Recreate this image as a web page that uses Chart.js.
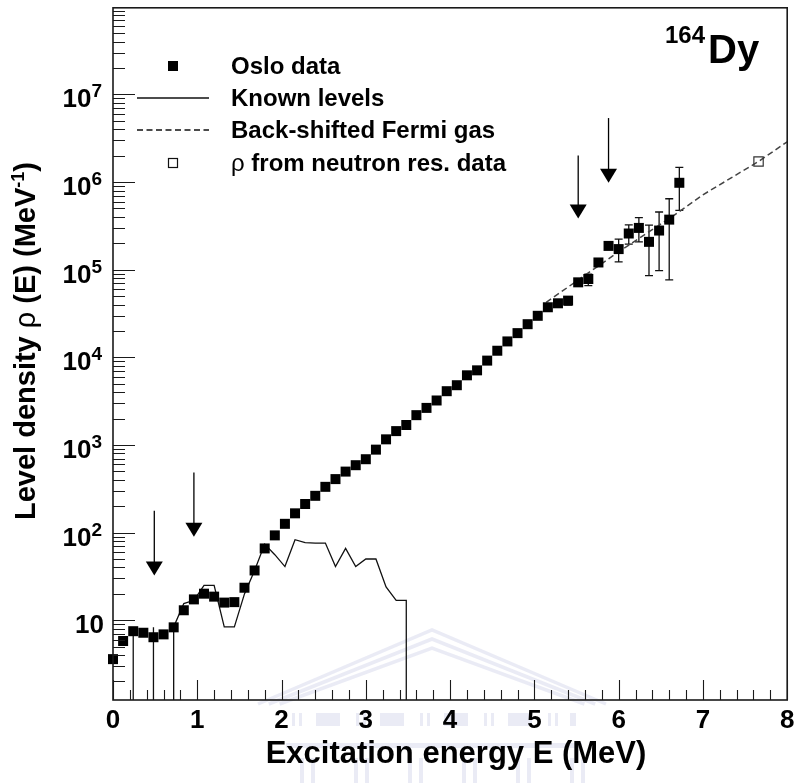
<!DOCTYPE html>
<html>
<head>
<meta charset="utf-8">
<script src="https://cdn.jsdelivr.net/npm/chart.js@4.4.1/dist/chart.umd.min.js"></script>
<style>
  html, body { margin: 0; padding: 0; background: #fff; }
  canvas { display: block; }
</style>
</head>
<body>
<canvas id="c" width="795" height="783"></canvas>
<script>
// Excitation-energy bins (MeV) of the Oslo-method level density
const energies = [0.00, 0.12, 0.24, 0.36, 0.48, 0.60, 0.72, 0.84, 0.96, 1.08,
                  1.20, 1.32, 1.44, 1.56, 1.68, 1.80, 1.92, 2.04, 2.16, 2.28,
                  2.40, 2.52, 2.64, 2.76, 2.88, 3.00, 3.12, 3.24, 3.36, 3.48,
                  3.60, 3.72, 3.84, 3.96, 4.08, 4.20, 4.32, 4.44, 4.56, 4.68,
                  4.80, 4.92, 5.04, 5.16, 5.28, 5.40, 5.52, 5.64, 5.76, 5.88,
                  6.00, 6.12, 6.24, 6.36, 6.48, 6.60, 6.72];

// Oslo data: level density (1/MeV) per bin
const osloRho = [3.6, 5.8, 7.5, 7.2, 6.4, 6.9, 8.3, 13.0, 17.3, 20.1,
                 18.6, 15.9, 16.1, 23.5, 37, 66, 93, 126, 166, 212,
                 263, 333, 408, 497, 588, 688, 885, 1160, 1440, 1690,
                 2190, 2650, 3220, 4110, 4810, 6240, 7110, 9180, 11900, 15200,
                 18900, 23900, 29800, 37300, 41400, 44400, 71800, 78400, 121000, 187000,
                 172000, 259000, 300000, 208000, 280000, 373000, 982000];

// Error bars on the Oslo data (only where they reach past the marker)
const errEnergies = [5.40, 5.64, 6.00, 6.12, 6.24, 6.36, 6.48, 6.60, 6.72];
const errLow  = [39600, 66000, 123000, 196000, 208000, 85500, 97500, 76400, 476000];
const errHigh = [49300, 89000, 223000, 325000, 393000, 322000, 456000, 646000, 1470000];

// Density of known discrete levels, same bins (0 = no level in the bin)
const knownRho = [0, 0, 8.0, 0, 8.3, 0, 8.4, 15.5, 16.9, 25,
                  25, 8.4, 8.4, 20, 37, 74, 56, 41, 83, 77,
                  76, 76, 41, 66, 41, 50, 50, 24, 16.9, 16.9, 0];

// Back-shifted Fermi gas curve
const bsfgE   = [5.14, 6.00, 6.66, 7.00, 7.66, 8.00];
const bsfgRho = [42500, 160000, 419000, 716000, 1720000, 2880000];

// Level density from neutron resonance spacing at Bn
const neutronE   = [7.66];
const neutronRho = [1720000];

// Arrows marking the normalisation regions
const arrowE    = [0.49, 0.96, 5.52, 5.88];
const arrowFrom = [178, 484, 2010000, 5380000];
const arrowTo   = [32.5, 90, 383000, 980000];

// Axes
const xTickLabels = ['0', '1', '2', '3', '4', '5', '6', '7', '8'];
const yDecades = [1, 2, 3, 4, 5, 6, 7];
const xTitle = 'Excitation energy E (MeV)';
const legendLabels = ['Oslo data', 'Known levels', 'Back-shifted Fermi gas', ' from neutron res. data'];

const FONT = '"Liberation Sans", Arial, Helvetica, sans-serif';
// an empty bin has no logarithm: its line runs off the bottom of the log axis
const EMPTY_BIN_FLOOR = 1e-3;

function knownLevelPoints() {
  const pts = [];
  for (let i = 0; i < knownRho.length; i++) {
    const v = knownRho[i], e = energies[i];
    const prev = i > 0 ? knownRho[i - 1] : 0;
    const next = i < knownRho.length - 1 ? knownRho[i + 1] : 0;
    if (v > 0) {
      if (prev === 0) pts.push({ x: e, y: EMPTY_BIN_FLOOR });
      pts.push({ x: e, y: v });
      if (next === 0) { pts.push({ x: e, y: EMPTY_BIN_FLOOR }); pts.push({ x: e, y: null }); }
    }
  }
  return pts;
}

function drawRuns(ctx, runs, x, y, align) {
  let total = 0;
  runs.forEach(r => { ctx.font = r.font; r.w = ctx.measureText(r.t).width; total += r.w; });
  let cx = align === 'center' ? x - total / 2 : (align === 'right' ? x - total : x);
  ctx.textAlign = 'left';
  runs.forEach(r => { ctx.font = r.font; ctx.fillText(r.t, cx, y + (r.dy || 0)); cx += r.w; });
}

// faint building emblem printed behind the lower axis
function drawEmblem(ctx) {
  ctx.save();
  const tint = 'rgba(200, 202, 228, 0.38)';
  ctx.fillStyle = tint;
  ctx.strokeStyle = tint;
  // pediment: three parallel roof stripes
  ctx.lineWidth = 3.5;
  for (let s = 0; s < 3; s++) {
    const off = s * 9;
    ctx.beginPath();
    ctx.moveTo(258 + off * 1.2, 704);
    ctx.lineTo(432, 630 + off);
    ctx.lineTo(606 - off * 1.2, 704);
    ctx.stroke();
  }
  // upper row of windows / pillars
  const row1 = [[292, 3], [299, 3], [316, 24], [356, 3], [363, 3], [380, 24], [420, 3], [427, 3],
                [444, 24], [484, 3], [491, 3], [508, 24], [548, 3], [555, 3], [570, 6]];
  row1.forEach(([x, w]) => ctx.fillRect(x, 713, w, 13));
  // cornice
  ctx.fillRect(286, 743, 296, 5);
  // columns
  for (let c = 0; c < 6; c++) {
    const x = 300 + c * 54;
    ctx.fillRect(x, 758, 4, 25);
    ctx.fillRect(x + 11, 758, 4, 25);
  }
  ctx.restore();
}

const decor = {
  id: 'decor',
  beforeDraw(chart) {
    drawEmblem(chart.ctx);
  },
  beforeDatasetsDraw(chart) {
    const ctx = chart.ctx, xs = chart.scales.x, ys = chart.scales.y;
    ctx.save();
    ctx.strokeStyle = '#111';
    ctx.lineWidth = 1.3;
    for (let k = 0; k < errEnergies.length; k++) {
      const px = xs.getPixelForValue(errEnergies[k]);
      const y1 = ys.getPixelForValue(errLow[k]);
      const y2 = ys.getPixelForValue(errHigh[k]);
      ctx.beginPath();
      ctx.moveTo(px, y1); ctx.lineTo(px, y2);
      ctx.moveTo(px - 4, y1); ctx.lineTo(px + 4, y1);
      ctx.moveTo(px - 4, y2); ctx.lineTo(px + 4, y2);
      ctx.stroke();
    }
    ctx.restore();
  },
  afterDraw(chart) {
    const ctx = chart.ctx, xs = chart.scales.x, ys = chart.scales.y;
    const a = chart.chartArea;
    ctx.save();

    // frame
    ctx.strokeStyle = '#1a1a1a';
    ctx.lineWidth = 1.6;
    ctx.strokeRect(a.left, a.top, a.right - a.left, a.bottom - a.top);

    // y ticks (log, drawn inwards)
    ctx.lineWidth = 1.1;
    ctx.beginPath();
    for (let d = 0; d <= 7; d++) {
      for (let m = 1; m <= 9; m++) {
        const v = m * Math.pow(10, d);
        if (v < ys.min || v > ys.max) continue;
        const py = Math.round(ys.getPixelForValue(v)) + 0.5;
        const len = m === 1 ? 22 : 12;
        ctx.moveTo(a.left, py); ctx.lineTo(a.left + len, py);
      }
    }
    // x ticks
    for (let t = 0; t <= 40; t++) {
      const v = t * 0.2;
      const px = Math.round(xs.getPixelForValue(v)) + 0.5;
      const len = t % 5 === 0 ? 20 : 10;
      ctx.moveTo(px, a.bottom); ctx.lineTo(px, a.bottom - len);
    }
    ctx.stroke();

    ctx.fillStyle = '#000';
    ctx.textBaseline = 'alphabetic';

    // x tick labels
    ctx.font = 'bold 26px ' + FONT;
    ctx.textAlign = 'center';
    xTickLabels.forEach((lab, i) => {
      ctx.fillText(lab, xs.getPixelForValue(i), a.bottom + 28);
    });

    // y tick labels 10^n
    yDecades.forEach(d => {
      const py = ys.getPixelForValue(Math.pow(10, d));
      if (d === 1) {
        drawRuns(ctx, [{ t: '10', font: 'bold 26px ' + FONT }], 104, py + 13, 'right');
      } else {
        drawRuns(ctx, [
          { t: '10', font: 'bold 26px ' + FONT },
          { t: String(d), font: 'bold 19px ' + FONT, dy: -10 }
        ], 102, py + 13, 'right');
      }
    });

    // axis titles
    ctx.font = 'bold 31px ' + FONT;
    ctx.textAlign = 'center';
    ctx.fillText(xTitle, 456, 763);

    ctx.save();
    ctx.translate(35, 341);
    ctx.rotate(-Math.PI / 2);
    drawRuns(ctx, [
      { t: 'Level density ', font: 'bold 29px ' + FONT },
      { t: '\u03C1', font: '29px ' + FONT },
      { t: ' (E) (MeV', font: 'bold 29px ' + FONT },
      { t: '-1', font: 'bold 18px ' + FONT, dy: -11 },
      { t: ')', font: 'bold 29px ' + FONT }
    ], 0, 0, 'center');
    ctx.restore();

    // nucleus label
    ctx.textAlign = 'left';
    ctx.font = 'bold 24px ' + FONT;
    ctx.fillText('164', 665, 43);
    ctx.font = 'bold 40px ' + FONT;
    ctx.fillText('Dy', 708, 63);

    // legend
    const rows = [66, 98, 130, 163];
    ctx.textBaseline = 'middle';
    ctx.fillRect(168, rows[0] - 5, 10, 10);
    ctx.strokeStyle = '#111';
    ctx.lineWidth = 1.3;
    ctx.beginPath(); ctx.moveTo(137, rows[1]); ctx.lineTo(209, rows[1]); ctx.stroke();
    ctx.setLineDash([6, 3.5]);
    ctx.beginPath(); ctx.moveTo(137, rows[2]); ctx.lineTo(209, rows[2]); ctx.stroke();
    ctx.setLineDash([]);
    ctx.lineWidth = 1.2;
    ctx.strokeRect(168.5, rows[3] - 4.5, 9, 9);
    ctx.font = 'bold 24px ' + FONT;
    ctx.textAlign = 'left';
    for (let r = 0; r < 3; r++) ctx.fillText(legendLabels[r], 231, rows[r] + 1);
    drawRuns(ctx, [
      { t: '\u03C1', font: '24px ' + FONT },
      { t: legendLabels[3], font: 'bold 24px ' + FONT }
    ], 231, rows[3] + 1, 'left');

    // arrows
    ctx.strokeStyle = '#000';
    ctx.lineWidth = 1.3;
    for (let k = 0; k < arrowE.length; k++) {
      const px = xs.getPixelForValue(arrowE[k]);
      const y1 = ys.getPixelForValue(arrowFrom[k]);
      const y2 = ys.getPixelForValue(arrowTo[k]);
      ctx.beginPath(); ctx.moveTo(px, y1); ctx.lineTo(px, y2 - 10); ctx.stroke();
      ctx.beginPath();
      ctx.moveTo(px - 8.5, y2 - 14); ctx.lineTo(px + 8.5, y2 - 14); ctx.lineTo(px, y2);
      ctx.closePath(); ctx.fill();
    }
    ctx.restore();
  }
};

new Chart(document.getElementById('c'), {
  type: 'scatter',
  data: {
    datasets: [
      {
        label: 'Oslo data',
        data: energies.map((e, i) => ({ x: e, y: osloRho[i] })),
        pointStyle: 'rect',
        pointRadius: 7.07,
        pointBorderWidth: 0,
        pointBackgroundColor: '#000',
        showLine: false,
        clip: false
      },
      {
        label: 'rho from neutron res. data',
        data: neutronE.map((e, i) => ({ x: e, y: neutronRho[i] })),
        pointStyle: 'rect',
        pointRadius: 6.6,
        pointBorderWidth: 1.2,
        pointBorderColor: '#333',
        pointBackgroundColor: 'rgba(255,255,255,0)',
        showLine: false
      },
      {
        label: 'Known levels',
        data: knownLevelPoints(),
        showLine: true,
        spanGaps: false,
        borderColor: '#111',
        borderWidth: 1.3,
        pointRadius: 0,
        tension: 0
      },
      {
        label: 'Back-shifted Fermi gas',
        data: bsfgE.map((e, i) => ({ x: e, y: bsfgRho[i] })),
        showLine: true,
        borderColor: '#444',
        borderWidth: 1.5,
        borderDash: [6, 3.5],
        pointRadius: 0,
        tension: 0
      }
    ]
  },
  options: {
    responsive: false,
    animation: false,
    devicePixelRatio: 1,
    layout: { padding: { left: 113, right: 7, top: 5, bottom: 83 } },
    plugins: { legend: { display: false }, tooltip: { enabled: false } },
    scales: {
      x: { type: 'linear', min: 0, max: 8, display: false },
      y: { type: 'logarithmic', min: 1.23, max: 9.75e7, display: false }
    }
  },
  plugins: [decor]
});
</script>
</body>
</html>
